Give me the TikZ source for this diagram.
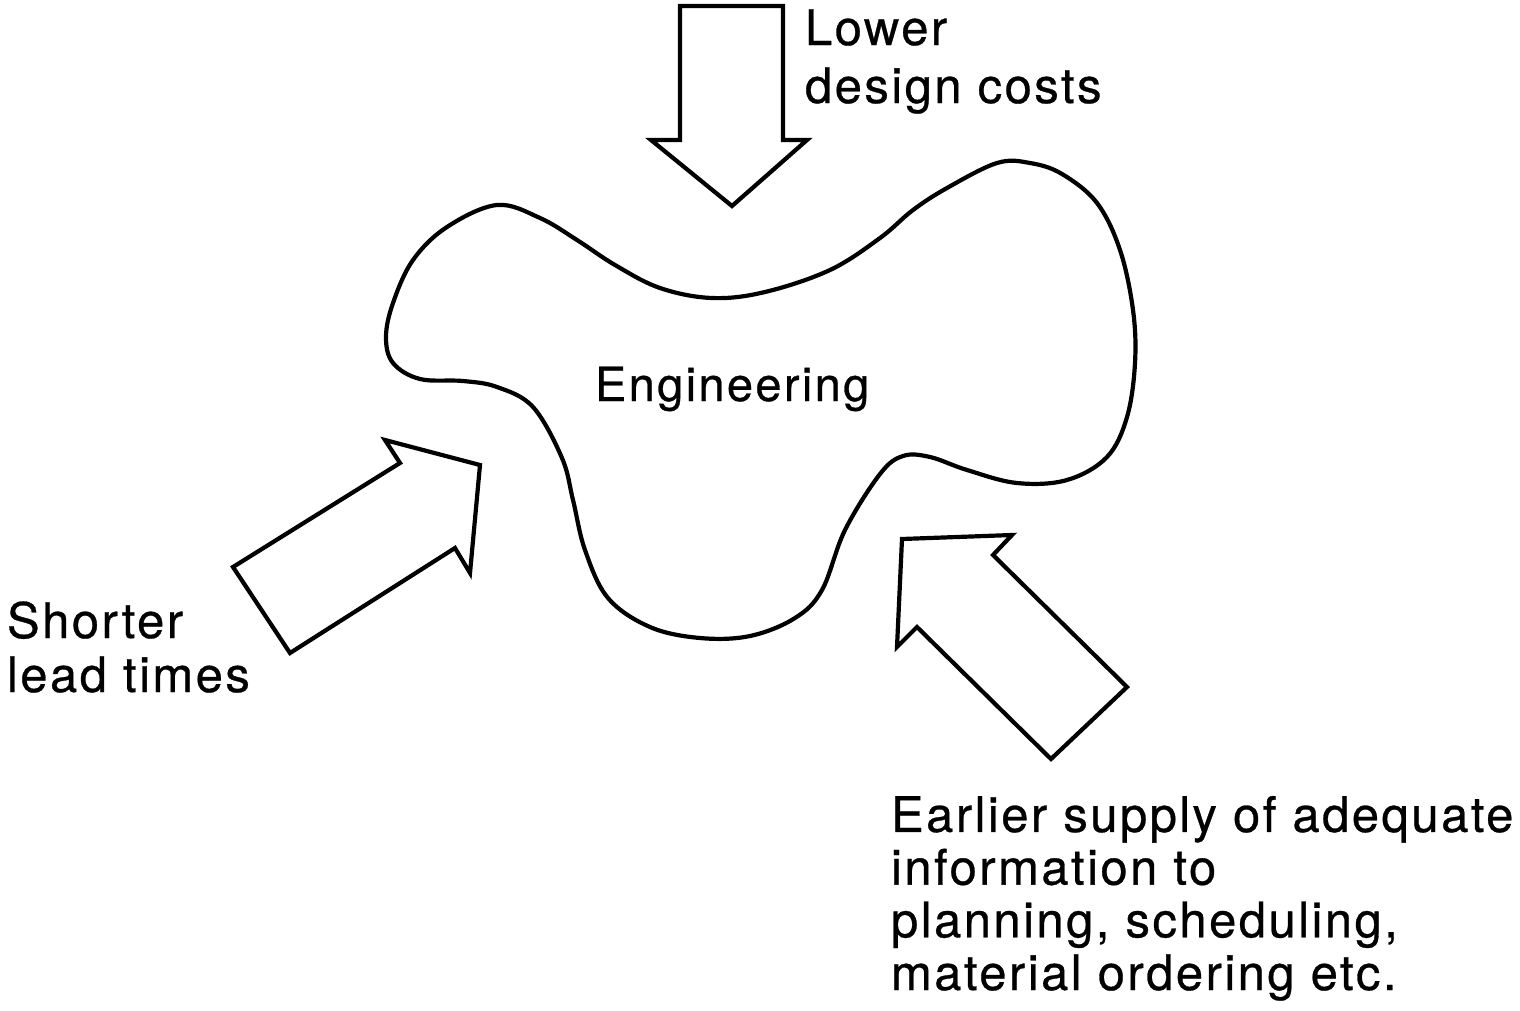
\documentclass[tikz,border=0pt]{standalone}
\usepackage{fontspec}
\setmainfont{TeX Gyre Heros}[LetterSpace=5,FakeBold=0.6]
\begin{document}
\begin{tikzpicture}[x=1pt,y=-1pt,
  outline/.style={draw=black,line width=4.2pt,line join=miter},
  lbl/.style={anchor=base west,inner sep=0pt,outer sep=0pt,align=left,font=\fontsize{49}{58}\selectfont}]
\useasboundingbox (0,0) rectangle (1520,1010);
% blob
\draw[outline,line join=round] plot[smooth cycle,tension=0.6] coordinates {
(497,205) (540,218) (577,240) (615,265) (660,288) (712,298) (765,292)
(830,270) (880,238) (913,210) (947,188) (997,163) (1030,163) (1062,174)
(1097,203) (1120,250) (1133,310) (1135,363) (1127,417) (1107,457) (1067,480)
(1017,483) (967,470) (930,457) (903,456) (880,474) (845,530) (822,590) (795,618)
(750,636) (700,638) (650,627) (608,598) (585,550) (573,500) (562,458) (533,407)
(497,387) (463,381) (420,379) (393,363) (386,337) (393,303) (413,260) (447,227)};
% top arrow
\draw[outline] (680,6) -- (783,6) -- (783,140) -- (807,140) -- (732,206) -- (651,140) -- (680,140) -- cycle;
% left arrow
\draw[outline] (233,567) -- (400,463) -- (385,440) -- (480,465) -- (470,573) -- (455,548) -- (290,653) -- cycle;
% right arrow
\draw[outline] (902,539) -- (1012,535) -- (993,555) -- (1127,687) -- (1051,759) -- (917,627) -- (897,647) -- cycle;
% labels
\node[lbl,font=\fontsize{47}{58}\selectfont] (eng) at (595,401) {Engineering};
\node[lbl] (top) at (805,103) {Lower\\design costs};
\node[lbl,font=\fontsize{49}{54}\selectfont] (left) at (7,692) {Shorter\\lead times};
\node[lbl,font=\fontsize{49}{52.7}\selectfont] (right) at (891,990) {Earlier supply of adequate\\information to\\planning, scheduling,\\material ordering etc.};
\end{tikzpicture}
\end{document}
